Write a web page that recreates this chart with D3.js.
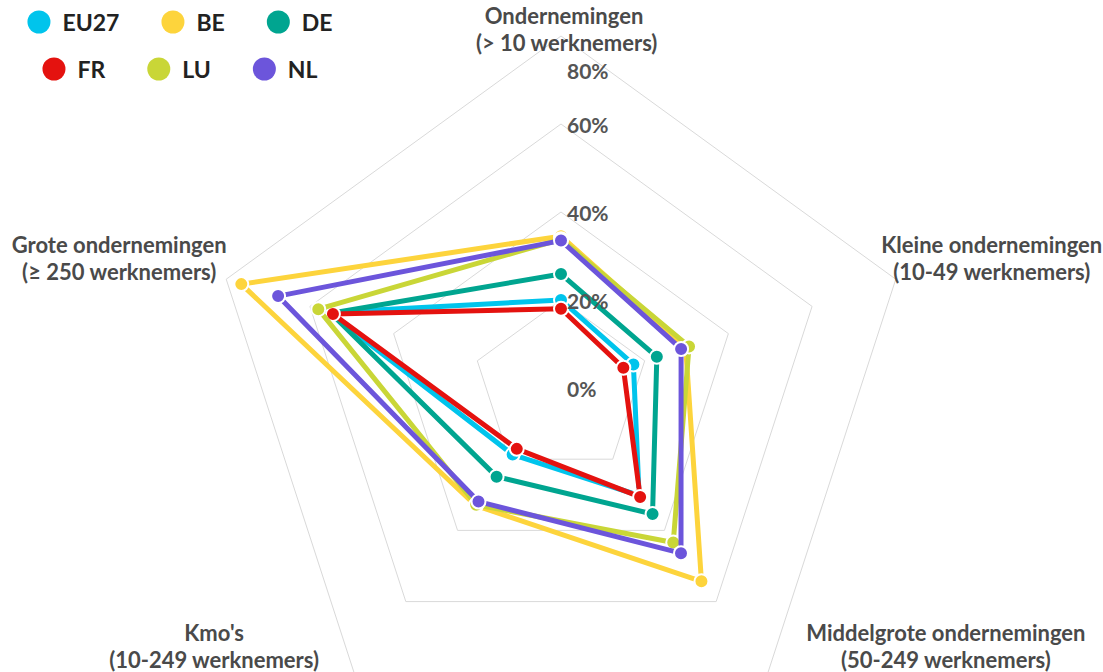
<!DOCTYPE html>
<html><head><meta charset="utf-8">
<script src="https://cdn.jsdelivr.net/npm/d3@7"></script>
<style>
body{margin:0;background:#fff}
svg{display:block}
text{font-family:Lato,"Open Sans",sans-serif;font-weight:700}
</style>
</head><body>
<svg id="chart" width="1103" height="672"></svg>
<script>
// ---- data ----
const categories = [
  ["Ondernemingen", " (> 10 werknemers)"],
  ["Kleine ondernemingen", "(10-49 werknemers)"],
  ["Middelgrote ondernemingen", "(50-249 werknemers)"],
  ["Kmo's", "(10-249 werknemers)"],
  ["Grote ondernemingen", "(\u2265 250 werknemers)"]
];
const seriesNames = ["EU27", "BE", "DE", "FR", "LU", "NL"];
const eu27 = [20.0, 17.3, 30.2, 18.7, 55.5];
const be   = [34.5, 29.8, 54.3, 33.0, 76.4];
const de   = [25.9, 22.9, 35.4, 24.9, 55.0];
const fr   = [18.0, 14.9, 30.6, 17.1, 54.5];
const lu   = [33.8, 30.6, 43.4, 32.8, 58.0];
const nl   = [33.5, 28.7, 46.4, 31.9, 67.6];
const tickValues = [0, 20, 40, 60, 80];
const tickLabels = ["0%", "20%", "40%", "60%", "80%"];

// ---- styles / layout ----
const colors = ["#00c4ec", "#fdd43c", "#00a590", "#e4120f", "#c9d637", "#6c55db"];
const seriesValues = [eu27, be, de, fr, lu, nl];
const W = 1103, H = 672, cx = 561, cy = 388, R = 352;
const labelOffsets = [[3, -7], [96, -21], [178, -27], [-140, -27], [-107, -21]];

const svg = d3.select("#chart");
const r = d3.scaleLinear().domain([0, 80]).range([0, R]);
const n = categories.length;
const ang = d3.scaleLinear().domain([0, n]).range([0, 2 * Math.PI]);
const px = (i, v) => cx + r(v) * Math.sin(ang(i));
const py = (i, v) => cy - r(v) * Math.cos(ang(i));

const g = svg.append("g").attr("transform", `translate(${cx},${cy})`);

// grid
const gridLine = d3.lineRadial()
  .angle((d, i) => ang(i)).radius(d => r(d)).curve(d3.curveLinearClosed);
g.selectAll(".grid").data(tickValues.filter(v => v > 0)).join("path")
  .attr("d", v => gridLine(d3.range(n).map(() => v)))
  .attr("fill", "none").attr("stroke", "#d9d9d9").attr("stroke-width", 1);

// series
const line = d3.lineRadial()
  .angle((d, i) => ang(i)).radius(d => r(d)).curve(d3.curveLinearClosed);
seriesValues.forEach((vals, s) => {
  const sg = svg.append("g");
  sg.append("path").attr("transform", `translate(${cx},${cy})`)
    .attr("d", line(vals)).attr("fill", "none")
    .attr("stroke", colors[s]).attr("stroke-width", 5).attr("stroke-linejoin", "round");
  sg.selectAll("circle").data(vals).join("circle")
    .attr("cx", (d, i) => px(i, d)).attr("cy", (d, i) => py(i, d))
    .attr("r", 7).attr("fill", colors[s]).attr("stroke", "#fff").attr("stroke-width", 2);
});

// tick labels
svg.selectAll(".tick").data(tickValues).join("text")
  .attr("x", cx + 6)
  .attr("y", v => Math.max(cy - r(v), 70))
  .attr("dominant-baseline", "central")
  .attr("font-size", 21).attr("fill", "#555")
  .text((v, i) => tickLabels[i]);

// axis labels
categories.forEach((lines, i) => {
  const vx = px(i, 80) + labelOffsets[i][0];
  const vy = py(i, 80) + labelOffsets[i][1];
  const t = svg.append("text").attr("text-anchor", "middle")
    .attr("font-size", 22).attr("fill", "#4a4a4a").style("white-space", "pre");
  lines.forEach((ln, k) => {
    t.append("tspan").attr("x", vx).attr("y", vy + (k - 0.5) * 27.5)
      .attr("dominant-baseline", "central").text(ln);
  });
});

// legend
const leg = svg.append("g");
const perRow = 3, itemGap = 42, circR = 11.5, textGap = 12;
for (let row = 0; row < 2; row++) {
  const items = d3.range(row * perRow, row * perRow + perRow);
  const rowG = leg.append("g");
  let x = 0;
  items.forEach(s => {
    const ig = rowG.append("g").attr("transform", `translate(${x},0)`);
    ig.append("circle").attr("cx", circR).attr("cy", 0).attr("r", circR).attr("fill", colors[s]);
    const tx = ig.append("text").attr("x", 2 * circR + textGap).attr("y", 0)
      .attr("dominant-baseline", "central").attr("font-size", 23).attr("fill", "#222")
      .text(seriesNames[s]);
    x += 2 * circR + textGap + tx.node().getComputedTextLength() + itemGap;
  });
  const rowW = x - itemGap;
  rowG.attr("transform", `translate(${180 - rowW / 2},${row === 0 ? 22 : 69})`);
}
</script>
</body></html>
